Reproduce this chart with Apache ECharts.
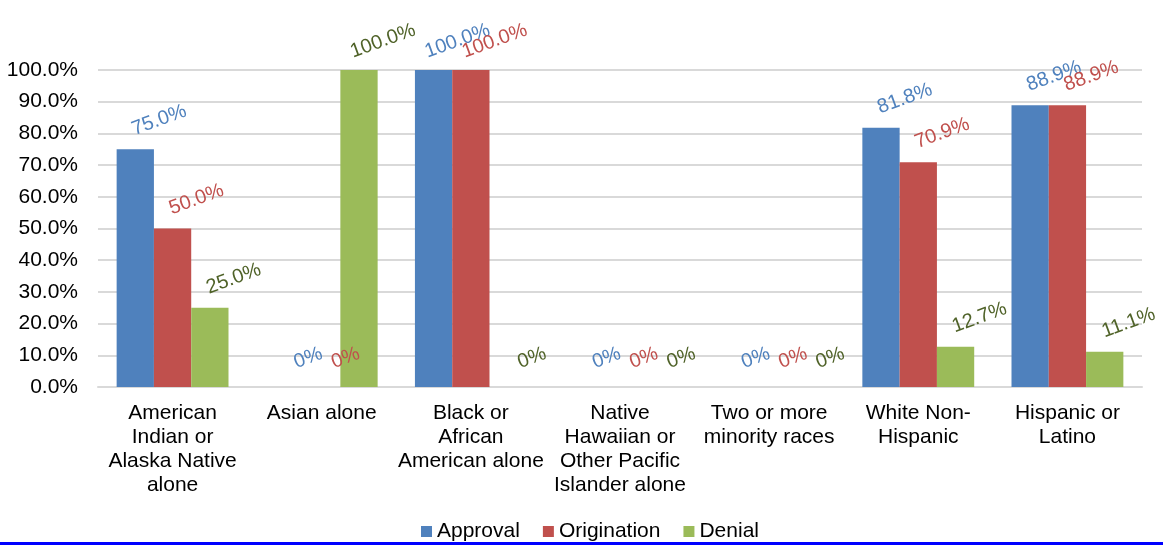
<!DOCTYPE html>
<html>
<head>
<meta charset="utf-8">
<script src="https://cdn.jsdelivr.net/npm/echarts@6/dist/echarts.min.js"></script>
<style>
html,body{margin:0;padding:0;background:#fff;}
#chart{width:1163px;height:545px;}
</style>
</head>
<body>
<div id="chart"></div>
<script>
var categories = [
  "American\nIndian or\nAlaska Native\nalone",
  "Asian alone",
  "Black or\nAfrican\nAmerican alone",
  "Native\nHawaiian or\nOther Pacific\nIslander alone",
  "Two or more\nminority races",
  "White Non-\nHispanic",
  "Hispanic or\nLatino"
];
var approval = [75.0, 0, 100.0, 0, 0, 81.8, 88.9];
var origination = [50.0, 0, 100.0, 0, 0, 70.9, 88.9];
var denial = [25.0, 100.0, 0, 0, 0, 12.7, 11.1];
var seriesNames = ["Approval", "Origination", "Denial"];
var yTicks = {min: 0, max: 100, interval: 10};

var FONT = "Liberation Sans, Arial, sans-serif";
function lbl(color) {
  return {
    show: true,
    position: ['114%', -29],
    rotate: 20,
    align: 'center',
    verticalAlign: 'middle',
    color: color,
    fontFamily: FONT,
    fontSize: 20,
    formatter: function (p) { return p.value === 0 ? '0%' : p.value.toFixed(1) + '%'; }
  };
}
var chart = echarts.init(document.getElementById('chart'), null, {renderer: 'canvas'});
chart.setOption({
  animation: false,
  backgroundColor: '#ffffff',
  textStyle: {fontFamily: FONT},
  grid: {left: 98, right: 21, top: 70, bottom: 158},
  legend: {
    top: 516,
    left: 416,
    itemWidth: 11,
    itemHeight: 11,
    itemGap: 23,
    icon: 'rect',
    textStyle: {fontSize: 21, color: '#000', fontFamily: FONT},
    data: seriesNames
  },
  xAxis: {
    type: 'category',
    data: categories,
    axisTick: {show: false},
    axisLine: {lineStyle: {color: '#D9D9D9', width: 2}},
    axisLabel: {interval: 0, color: '#000', fontSize: 21, lineHeight: 24, margin: 14, fontFamily: FONT}
  },
  yAxis: {
    type: 'value',
    min: yTicks.min, max: yTicks.max, interval: yTicks.interval,
    axisLine: {show: false},
    axisTick: {show: false},
    splitLine: {lineStyle: {color: '#D9D9D9', width: 2}},
    axisLabel: {color: '#000', fontSize: 21, margin: 20, fontFamily: FONT,
      formatter: function (v) { return v.toFixed(1) + '%'; }}
  },
  series: [
    {name: seriesNames[0], type: 'bar', data: approval, barGap: '0%', barCategoryGap: '25%',
     itemStyle: {color: '#4F81BD'}, label: lbl('#4F81BD')},
    {name: seriesNames[1], type: 'bar', data: origination, barGap: '0%', barCategoryGap: '25%',
     itemStyle: {color: '#C0504D'}, label: lbl('#C0504D')},
    {name: seriesNames[2], type: 'bar', data: denial, barGap: '0%', barCategoryGap: '25%',
     itemStyle: {color: '#9BBB59'}, label: lbl('#4F6228')}
  ],
  graphic: [{
    type: 'rect', left: 0, top: 542,
    shape: {width: 1163, height: 3},
    style: {fill: '#0000FF'}, z: 100
  }]
});
</script>
</body>
</html>
